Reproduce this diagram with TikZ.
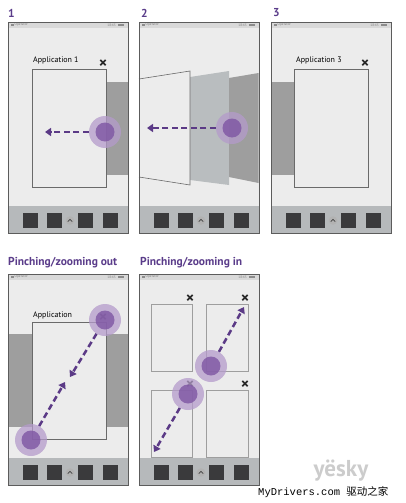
\documentclass[tikz,border=0pt]{standalone}
\usepackage{fontspec}
\setmainfont{PT Sans}
\newfontfamily\monofont{Liberation Mono}
\newfontfamily\cjk{Noto Sans CJK SC}
\usetikzlibrary{arrows.meta,positioning}

\definecolor{screen}{HTML}{ECECEC}
\definecolor{statusbar}{HTML}{D9D9D9}
\definecolor{framecol}{HTML}{5C5C5C}
\definecolor{dock}{HTML}{B6B9BB}
\definecolor{dockkey}{HTML}{3A3A3C}
\definecolor{panel}{HTML}{9E9E9E}
\definecolor{panellight}{HTML}{B9BDBF}
\definecolor{winline}{HTML}{6A6A6A}
\definecolor{touchout}{HTML}{B49BCB}
\definecolor{touchin}{HTML}{7E55A3}
\definecolor{swipecol}{HTML}{5B3A86}
\definecolor{headcol}{HTML}{5A3C8A}

\tikzset{
  heading/.style={font=\bfseries\fontsize{11.5}{13}\selectfont, text=headcol, anchor=west, inner sep=0pt},
  applabel/.style={font=\fontsize{8}{9}\selectfont, anchor=base west, inner sep=0pt},
  closex/.style={font=\bfseries\fontsize{16}{16}\selectfont, text=black!85, inner sep=0pt},
  window/.style={draw=winline, line width=0.6pt, fill=screen},
  tile/.style={draw=panel, line width=0.9pt, fill=screen},
  touch/.style={circle, inner sep=0pt, minimum size=32pt, fill=touchout, fill opacity=0.75},
  touchcore/.style={circle, inner sep=0pt, minimum size=19pt, fill=touchin, fill opacity=0.8},
  swipe/.style={draw=swipecol, line width=2.5pt, dash pattern=on 6pt off 3.5pt, -{Triangle[length=6pt,width=8pt]}},
  tiny/.style={font=\fontsize{3.5}{4}\selectfont, text=black!50, inner sep=0pt},
}

% phone: name, left, top, screen content
\newcommand{\phone}[4]{%
  \begin{scope}[shift={(#2,#3)}]
    \fill[screen] (0,0) rectangle (120,211);
    \fill[statusbar] (0,0) rectangle (120,6);
    \fill[black!45] (2.5,1.8) rectangle (5.5,4.2);
    \node[tiny, anchor=west] (#1op) at (6.5,3) {Operator};
    \node[tiny, anchor=east] (#1clock) at (108,3) {18:45};
    \fill[black!45] (109.5,1.8) rectangle (116,4.2);
    \fill[dock] (0,184) rectangle (120,211);
    \foreach \bx in {15,39,70,95}
      \fill[dockkey] (\bx,191) rectangle ++(14.5,15);
    \node[circle, fill=black!30, minimum size=8.5pt, inner sep=0pt] (#1up) at (62,198.5) {};
    \draw[black!75, line width=0.7pt] (59.8,199.6) -- (62,197.4) -- (64.2,199.6);
  \end{scope}
  #4
  \draw[framecol, line width=0.8pt] (#2,#3) rectangle ++(120,211);
}

\begin{document}
\begin{tikzpicture}[x=1pt,y=-1pt]
  \useasboundingbox[fill=white] (0,0) rectangle (405,503);

  % headings
  \node[heading] (h1) at (8,13) {1};
  \node[heading] (h2) at (141,13) {2};
  \node[heading] (h3) at (273,13) {3};
  \node[heading] (h4) at (8,263) {Pinching/zooming out};
  \node[heading] (h5) at (140,263) {Pinching/zooming in};

  % 1: swipe away
  \phone{p1}{8}{22}{
    \fill[panel] (106,82) rectangle (128,175);
    \draw[window] (32,69) rectangle (106,187);
    \node[applabel] (app1) at (33,63) {Application 1};
    \node[closex] (x1) at (103,64) {×};
    \node[touch] (t1) at (105,132) {};
    \node[touchcore] (t1c) at (t1) {};
    \coordinate (e1) at (45,132);
    \draw[swipe] (t1) -- (e1);
  }

  % 2: pages turning
  \phone{p2}{139}{22}{
    \fill[panellight] (190,77) -- (229,71) -- (229,185) -- (190,180) -- cycle;
    \fill[panel] (229,78) -- (258.6,73) -- (258.6,183) -- (229,177) -- cycle;
    \filldraw[fill=screen, draw=winline, line width=0.6pt] (139,79) -- (190,71) -- (190,185) -- (139,177);
    \node[touch] (t2) at (232,128) {};
    \node[touchcore] (t2c) at (t2) {};
    \coordinate (e2) at (147,128);
    \draw[swipe] (t2) -- (e2);
  }

  % 3: next application
  \phone{p3}{271}{22}{
    \fill[panel] (271,82) rectangle (294,175);
    \draw[window] (294,69) rectangle (368,187);
    \node[applabel] (app3) at (296,63) {Application 3};
    \node[closex] (x3) at (365,64) {×};
  }

  % 4: zooming out
  \phone{p4}{8}{274}{
    \fill[panel] (8,334) rectangle (32,427);
    \fill[panel] (106,334) rectangle (128,427);
    \draw[window] (32,322) rectangle (106,439);
    \node[applabel] (app4) at (33,317) {Application};
    \node[closex] (x4) at (103,318) {×};
    \node[touch] (t4a) at (105,320) {};
    \node[touchcore] (t4ac) at (t4a) {};
    \node[touch] (t4b) at (31,440) {};
    \node[touchcore] (t4bc) at (t4b) {};
    \coordinate (m4a) at (70,377);
    \coordinate (m4b) at (65,382);
    \draw[swipe] (t4a) -- (m4a);
    \draw[swipe] (t4b) -- (m4b);
  }

  % 5: zooming in
  \phone{p5}{139}{274}{
    \draw[tile] (151,304) rectangle (192,371);
    \draw[tile] (206,304) rectangle (248,371);
    \draw[tile] (151,390) rectangle (192,457);
    \draw[tile] (206,390) rectangle (248,457);
    \node[closex] (x5a) at (190,299) {×};
    \node[closex] (x5b) at (245,299) {×};
    \node[closex] (x5c) at (190,385) {×};
    \node[closex] (x5d) at (245,385) {×};
    \node[touch] (t5a) at (211,366) {};
    \node[touchcore] (t5ac) at (t5a) {};
    \node[touch] (t5b) at (188,394) {};
    \node[touchcore] (t5bc) at (t5b) {};
    \coordinate (e5a) at (244,307);
    \coordinate (e5b) at (154,452);
    \draw[swipe] (t5a) -- (e5a);
    \draw[swipe] (t5b) -- (e5b);
  }

  % watermark
  \node[font=\bfseries\fontsize{23}{23}\selectfont, text=black!20, inner sep=0pt] (yesky) at (341,471) {yësky};
  \node[font=\monofont\fontsize{10.5}{12}\selectfont, anchor=base west, inner sep=0pt] (mark) at (258,495) {MyDrivers.com {\cjk 驱动之家}};
\end{tikzpicture}
\end{document}
